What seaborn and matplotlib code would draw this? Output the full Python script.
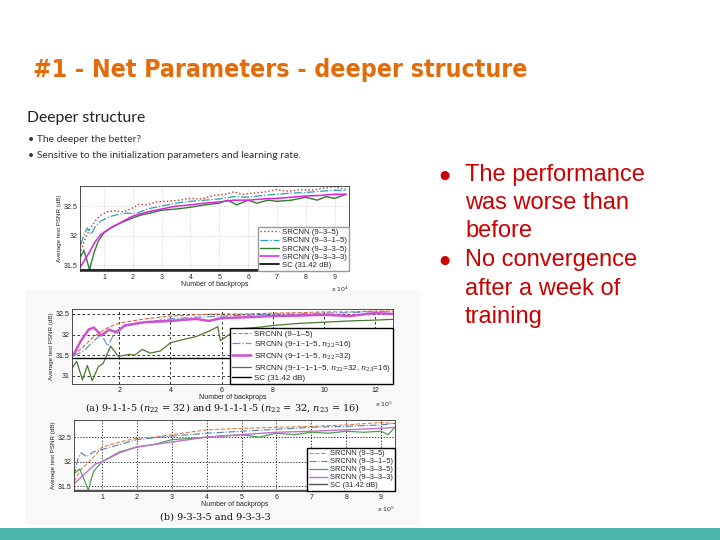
import matplotlib
matplotlib.use("Agg")
import matplotlib.pyplot as plt
import seaborn as sns
from matplotlib.patches import Rectangle

# ---- data ----
sc_db = 31.42

# panel 1 (x in 1e4 backprops)
p1_x_935 = [0.2, 0.35, 0.5, 0.7, 0.9, 1.1, 1.4, 1.7, 2.0, 2.2, 2.5, 2.8, 3.2, 3.6, 4.0,
            4.4, 4.8, 5.2, 5.5, 5.8, 6.2, 6.6, 7.0, 7.4, 7.8, 8.2, 8.6, 9.0, 9.2, 9.4]
p1_y_935 = [31.75, 31.95, 32.1, 32.25, 32.35, 32.4, 32.42, 32.4, 32.47, 32.53, 32.52, 32.57,
            32.58, 32.6, 32.63, 32.62, 32.68, 32.7, 32.74, 32.7, 32.72, 32.74, 32.78, 32.75,
            32.78, 32.77, 32.8, 32.83, 32.8, 32.78]
p1_x_9315 = [0.2, 0.3, 0.42, 0.55, 0.7, 0.9, 1.2, 1.5, 1.8, 2.1, 2.5, 3.0, 3.5, 4.0, 4.5,
             5.0, 5.5, 6.0, 6.5, 7.0, 7.5, 8.0, 8.5, 9.0, 9.4]
p1_y_9315 = [31.85, 32.0, 32.13, 32.02, 32.15, 32.25, 32.32, 32.36, 32.38, 32.37, 32.45, 32.5,
             32.55, 32.58, 32.6, 32.62, 32.66, 32.65, 32.68, 32.7, 32.72, 32.73, 32.75, 32.77, 32.76]
p1_x_9335 = [0.2, 0.3, 0.4, 0.5, 0.65, 0.8, 1.0, 1.3, 1.6, 2.0, 2.3, 2.6, 3.0, 3.5, 4.0, 4.5,
             5.0, 5.3, 5.6, 6.0, 6.3, 6.7, 7.0, 7.5, 8.0, 8.4, 8.7, 9.0, 9.4]
p1_y_9335 = [31.65, 31.75, 31.6, 31.42, 31.7, 31.9, 32.05, 32.15, 32.22, 32.3, 32.35, 32.38,
             32.43, 32.45, 32.48, 32.52, 32.55, 32.6, 32.52, 32.6, 32.55, 32.6, 32.58, 32.6,
             32.65, 32.6, 32.66, 32.63, 32.7]
p1_x_9333 = [0.2, 0.35, 0.5, 0.7, 0.9, 1.2, 1.5, 2.0, 2.5, 3.0, 3.5, 4.0, 4.5, 5.0, 5.5, 6.0,
             6.5, 7.0, 7.5, 8.0, 8.5, 9.0, 9.4]
p1_y_9333 = [31.48, 31.6, 31.72, 31.9, 32.02, 32.12, 32.2, 32.33, 32.4, 32.45, 32.5, 32.52,
             32.55, 32.57, 32.6, 32.6, 32.62, 32.63, 32.65, 32.67, 32.68, 32.7, 32.7]

# panel 2 (x in 1e5 backprops)
p2_x_915 = [0.2, 0.5, 1.0, 1.5, 2.0, 3.0, 4.0, 5.0, 6.0, 7.0, 8.0, 9.0, 10.0, 11.0, 12.0, 12.7]
p2_y_915 = [31.5, 31.65, 31.95, 32.15, 32.28, 32.38, 32.45, 32.48, 32.5, 32.5, 32.52, 32.53,
            32.55, 32.55, 32.57, 32.57]
p2_x_9115a = [0.2, 0.6, 1.0, 1.3, 1.55, 1.85, 2.2, 3.0, 4.0, 5.0, 6.0, 7.0, 8.0, 9.0, 10.0,
              11.0, 12.0, 12.7]
p2_y_9115a = [31.48, 31.6, 31.85, 32.0, 31.72, 32.08, 32.2, 32.3, 32.38, 32.42, 32.45, 32.47,
              32.5, 32.5, 32.52, 32.53, 32.56, 32.55]
p2_x_9115b = [0.2, 0.5, 0.8, 1.0, 1.3, 1.6, 1.9, 2.2, 3.0, 4.0, 5.0, 5.5, 6.0, 7.0, 8.0,
              9.0, 10.0, 11.0, 12.0, 12.7]
p2_y_9115b = [31.5, 31.85, 32.12, 32.17, 31.98, 32.12, 32.05, 32.22, 32.3, 32.33, 32.38, 32.33,
              32.4, 32.42, 32.45, 32.46, 32.48, 32.45, 32.52, 32.5]
p2_x_91115 = [0.17, 0.33, 0.56, 0.75, 0.94, 1.18, 1.37, 1.66, 1.96, 2.4, 2.6, 2.9, 3.2, 3.6,
              4.0, 4.5, 5.0, 5.5, 5.85, 5.95, 6.3, 6.7, 7.5, 8.0, 9.0, 10.0, 11.0, 12.0, 12.7]
p2_y_91115 = [31.2, 31.35, 30.9, 31.25, 30.88, 31.22, 31.3, 31.72, 31.47, 31.52, 31.5, 31.64,
              31.55, 31.6, 31.8, 31.88, 31.95, 32.08, 32.19, 31.85, 32.0, 32.14, 32.18, 32.22,
              32.27, 32.3, 32.33, 32.35, 32.37]

# panel 3 (x in 1e5 backprops)
p3_x_935 = [0.19, 0.4, 0.7, 1.0, 1.5, 2.0, 2.5, 3.0, 3.5, 4.0, 5.0, 6.0, 7.0, 8.0, 9.0, 9.4]
p3_y_935 = [31.6, 31.85, 32.05, 32.3, 32.4, 32.48, 32.5, 32.55, 32.6, 32.65, 32.68, 32.7,
            32.72, 32.75, 32.8, 32.78]
p3_x_9315 = [0.19, 0.3, 0.4, 0.55, 0.75, 1.0, 1.5, 2.0, 3.0, 4.0, 5.0, 6.0, 7.0, 8.0, 9.0, 9.4]
p3_y_9315 = [31.7, 32.05, 32.18, 32.1, 32.2, 32.25, 32.35, 32.45, 32.52, 32.58, 32.62, 32.66,
             32.7, 32.72, 32.75, 32.78]
p3_x_9335 = [0.19, 0.35, 0.5, 0.6, 0.75, 1.0, 1.5, 2.0, 2.5, 3.0, 3.5, 4.0, 5.0, 5.5, 6.0,
             6.5, 7.0, 7.5, 8.0, 8.5, 9.0, 9.2, 9.4]
p3_y_9335 = [31.75, 31.85, 31.6, 31.42, 31.8, 32.0, 32.2, 32.3, 32.35, 32.45, 32.47, 32.5,
             32.55, 32.5, 32.58, 32.55, 32.6, 32.58, 32.62, 32.6, 32.62, 32.55, 32.7]
p3_x_9333 = [0.19, 0.5, 0.8, 1.0, 1.5, 2.0, 3.0, 4.0, 5.0, 6.0, 7.0, 8.0, 9.0, 9.4]
p3_y_9333 = [31.55, 31.75, 31.95, 32.0, 32.18, 32.3, 32.4, 32.5, 32.55, 32.6, 32.62, 32.65,
             32.68, 32.7]

# ---- figure ----
sns.set_theme(style="white")
plt.rcParams['font.family'] = ['Liberation Sans', 'DejaVu Sans']
plt.rcParams['mathtext.fontset'] = 'dejavuserif'

W, H = 720, 540
fig = plt.figure(figsize=(7.2, 5.4), dpi=100)
fig.patch.set_facecolor('white')


def box(x0, y0, x1, y1):
    # pixel box (top-left origin) -> figure fraction rect
    return [x0 / W, 1 - y1 / H, (x1 - x0) / W, (y1 - y0) / H]


def style_axes(ax, xlim, ylim, xticks, yticks, ylabels, grid_color, grid_ls):
    ax.set_xlim(*xlim)
    ax.set_ylim(*ylim)
    ax.set_xticks(xticks)
    ax.set_yticks(yticks)
    ax.set_yticklabels(ylabels)
    ax.tick_params(labelsize=5, direction='in', length=2, pad=2, colors='#222222')
    ax.grid(True, color=grid_color, linestyle=grid_ls, linewidth=0.6)
    for s in ax.spines.values():
        s.set_color('#333333')
        s.set_linewidth(0.6)
    ax.set_xlabel('Number of backprops', fontsize=5, labelpad=0)
    ax.set_ylabel('Average test PSNR (dB)', fontsize=4.5, labelpad=1)


def line(ax, xs, ys, color, ls, lw, label):
    sns.lineplot(x=xs, y=ys, ax=ax, color=color, linestyle=ls, linewidth=lw, label=label)


def legend(ax, size, edge):
    ax.legend(loc='lower right', fontsize=size, frameon=True, fancybox=False, edgecolor=edge,
              framealpha=1, borderpad=0.25, labelspacing=0.1, handlelength=2.4,
              handletextpad=0.4, borderaxespad=0.0)


# light backdrop of pasted figure (a)/(b)
fig.patches.append(Rectangle((25 / W, 1 - 525 / H), 395 / W, 235 / H,
                             transform=fig.transFigure, facecolor='#f8f8f8',
                             edgecolor='none', zorder=-5))

# panel 1
ax1 = fig.add_axes(box(80, 186, 349, 271))
line(ax1, p1_x_935, p1_y_935, '#c0392b', ':', 1.0, 'SRCNN (9\u20133\u20135)')
line(ax1, p1_x_9315, p1_y_9315, '#2a9fb5', '-.', 0.9, 'SRCNN (9\u20133\u20131\u20135)')
line(ax1, p1_x_9335, p1_y_9335, '#2e7d32', '-', 1.0, 'SRCNN (9\u20133\u20133\u20135)')
line(ax1, p1_x_9333, p1_y_9333, '#e020e0', '-', 1.1, 'SRCNN (9\u20133\u20133\u20133)')
ax1.axhline(sc_db, color='black', linewidth=1.2, label='SC (31.42 dB)')
style_axes(ax1, (0.17, 9.5), (31.40, 32.84), range(1, 10), [31.5, 32, 32.5],
           ['31.5', '32', '32.5'], '#cccccc', ':')
legend(ax1, 5.6, '#999999')
ax1.text(1.0, -0.24, r'x 10$^4$', transform=ax1.transAxes, ha='right', fontsize=4.5,
         family='DejaVu Sans')

# panel 2
ax2 = fig.add_axes(box(72, 309, 393, 384))
line(ax2, p2_x_915, p2_y_915, '#e0663a', '--', 0.8, 'SRCNN (9\u20131\u20135)')
line(ax2, p2_x_9115a, p2_y_9115a, '#6a8fd0', '-.', 0.9, 'SRCNN (9\u20131\u20131\u20135, $n_{22}$=16)')
line(ax2, p2_x_9115b, p2_y_9115b, '#d050d0', '-', 1.8, 'SRCNN (9\u20131\u20131\u20135, $n_{22}$=32)')
line(ax2, p2_x_91115, p2_y_91115, '#4a7a30', '-', 0.9,
     'SRCNN (9\u20131\u20131\u20131\u20135, $n_{22}$=32, $n_{23}$=16)')
ax2.axhline(sc_db, color='black', linewidth=1.0, label='SC (31.42 dB)')
style_axes(ax2, (0.15, 12.7), (30.8, 32.62), [2, 4, 6, 8, 10, 12], [31, 31.5, 32, 32.5],
           ['31', '31.5', '32', '32.5'], '#111111', (0, (3, 3)))
legend(ax2, 5.8, 'black')
ax2.text(1.0, -0.3, r'x 10$^5$', transform=ax2.transAxes, ha='right', fontsize=4.5,
         family='DejaVu Sans')
fig.text(222 / W, 1 - 407 / H,
         r'(a) 9-1-1-5 ($n_{22}$ = 32) and 9-1-1-1-5 ($n_{22}$ = 32, $n_{23}$ = 16)',
         ha='center', va='center', fontsize=7, family='DejaVu Serif', color='#111111')

# panel 3
ax3 = fig.add_axes(box(74, 420, 395, 491))
line(ax3, p3_x_935, p3_y_935, '#e08040', '--', 0.8, 'SRCNN (9\u20133\u20135)')
line(ax3, p3_x_9315, p3_y_9315, '#5080c0', '-.', 0.8, 'SRCNN (9\u20133\u20131\u20135)')
line(ax3, p3_x_9335, p3_y_9335, '#4f9f4f', '-', 0.9, 'SRCNN (9\u20133\u20133\u20135)')
line(ax3, p3_x_9333, p3_y_9333, '#c070d0', '-', 1.0, 'SRCNN (9\u20133\u20133\u20133)')
ax3.axhline(sc_db, color='#505050', linewidth=1.0, label='SC (31.42 dB)')
style_axes(ax3, (0.19, 9.4), (31.40, 32.85), range(1, 10), [31.5, 32, 32.5],
           ['31.5', '32', '32.5'], '#111111', (0, (1.5, 2)))
legend(ax3, 5.4, 'black')
ax3.text(1.0, -0.3, r'x 10$^5$', transform=ax3.transAxes, ha='right', fontsize=4.5,
         family='DejaVu Sans')
fig.text(215 / W, 1 - 517 / H, '(b) 9-3-3-5 and 9-3-3-3', ha='center', va='center',
         fontsize=7, family='DejaVu Serif', color='#111111')

# slide texts
fig.text(33 / W, 1 - 70 / H, '#1 - Net Parameters - deeper structure', fontsize=17.8,
         fontweight='bold', fontstretch='condensed', family='DejaVu Sans', color='#E36C0A',
         va='center')
fig.text(27 / W, 1 - 118 / H, 'Deeper structure', fontsize=11.3, family='Lato',
         color='#222222', va='center')
fig.text(28 / W, 1 - 140 / H, '\u2022 The deeper the better?', fontsize=7.5,
         family=['Lato', 'DejaVu Sans'], color='#333333', va='center')
fig.text(28 / W, 1 - 156 / H, '\u2022 Sensitive to the initialization parameters and learning rate.',
         fontsize=7.5, family=['Lato', 'DejaVu Sans'], color='#333333', va='center')

red = '#CC0000'
right_lines = [('The performance', 175), ('was worse than', 203), ('before', 231),
               ('No convergence', 260), ('after a week of', 289), ('training', 317)]
for txt, yy in right_lines:
    fig.text(465 / W, 1 - yy / H, txt, fontsize=17, color=red, va='center',
             family='Liberation Sans')
for yy in (175, 260):
    fig.text(444 / W, 1 - yy / H, '\u25cf', fontsize=8.5, color=red, va='center', ha='center',
             family='DejaVu Sans')

# teal footer bar
fig.patches.append(Rectangle((0, 0), 1, 12 / H, transform=fig.transFigure,
                             facecolor='#4DB6AC', edgecolor='none'))

fig.savefig('out.png', dpi=100)
